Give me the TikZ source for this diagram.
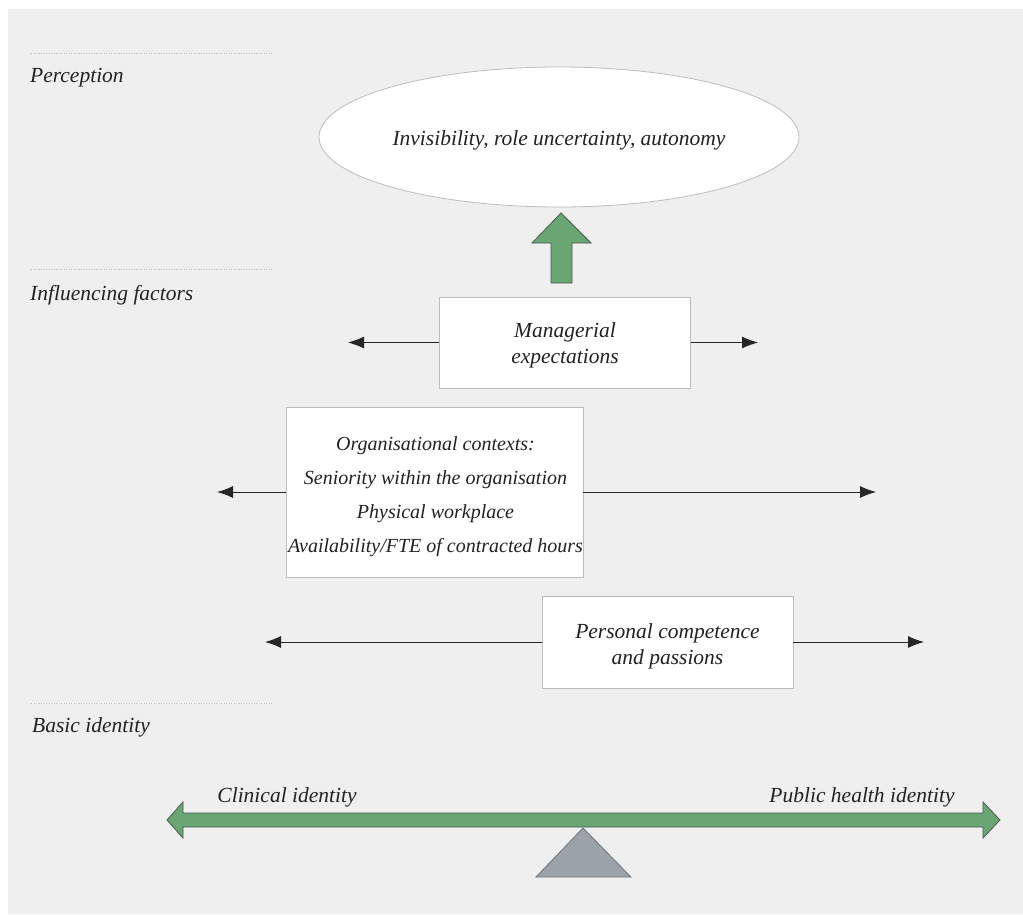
\documentclass[tikz,border=0pt]{standalone}
\usepackage{fontspec}
\setmainfont{Liberation Serif}
\usetikzlibrary{arrows.meta,shapes.geometric}
\definecolor{bg}{HTML}{EFEFEF}
\definecolor{boxline}{HTML}{BDBDBD}
\definecolor{greenfill}{HTML}{6AA674}
\definecolor{greenline}{HTML}{4A5A4C}
\definecolor{triFill}{HTML}{9AA2AA}
\definecolor{triLine}{HTML}{6E747A}
\definecolor{txt}{HTML}{222222}
\begin{document}
\begin{tikzpicture}[x=1pt,y=-1pt,
  every node/.style={text=txt,font=\fontsize{21.5}{26}\selectfont\itshape},
  box/.style={draw=boxline,fill=white,line width=0.8pt,inner sep=0pt},
  boxtext/.style={align=center,inner sep=0pt},
  conn/.style={draw=black!85,line width=0.9pt,-{Latex[length=16pt,width=12pt]}},
  sep/.style={draw=black!25,line width=0.5pt,dotted},
  lab/.style={anchor=west,inner sep=0pt},
  greenshape/.style={fill=greenfill,draw=greenline,line width=0.8pt,line join=miter}]
\useasboundingbox (0,0) rectangle (1023,914);
\fill[bg] (8,9) rectangle (1023,914);

% separators
\draw[sep] (31,53) -- (273,53);
\draw[sep] (31,269) -- (273,269);
\draw[sep] (31,703) -- (273,703);

% level labels
\node[lab] (perc) at (30,78) {Perception};
\node[lab] (infl) at (30,295) {Influencing factors};
\node[lab] (basic) at (32,727) {Basic identity};

% ellipse
\node[ellipse,draw=boxline,fill=white,line width=0.8pt,minimum width=480pt,minimum height=140pt,inner sep=0pt] (ell) at (559,137) {};
\node (elltext) at (559,140) {Invisibility, role uncertainty, autonomy};

% up arrow
\draw[greenshape] (561,213) -- (591,243) -- (572,243) -- (572,283) -- (551,283) -- (551,243) -- (532,243) -- cycle;

% managerial
\node[box,minimum width=251pt,minimum height=91pt] (man) at (565,342.5) {};
\node[boxtext] (mantext) at (565,345) {Managerial\\expectations};
\coordinate (manL) at (348,342.5);
\coordinate (manR) at (758,342.5);
\draw[conn] (man.west) -- (manL);
\draw[conn] (man.east) -- (manR);

% organisational
\node[box,minimum width=297pt,minimum height=170pt] (org) at (434.5,492) {};
\node[boxtext,font=\fontsize{20}{34}\selectfont\itshape] (orgtext) at (435.5,497) {Organisational contexts:\\Seniority within the organisation\\Physical workplace\\Availability/FTE of contracted hours};
\coordinate (orgL) at (217,492);
\coordinate (orgR) at (876,492);
\draw[conn] (org.west) -- (orgL);
\draw[conn] (org.east) -- (orgR);

% personal
\node[box,minimum width=251pt,minimum height=92pt] (pers) at (667.5,642) {};
\node[boxtext] (perstext) at (667.5,646) {Personal competence\\and passions};
\coordinate (persL) at (265,642);
\coordinate (persR) at (924,642);
\draw[conn] (pers.west) -- (persL);
\draw[conn] (pers.east) -- (persR);

% balance beam
\draw[greenshape] (167,820) -- (183,802) -- (183,813) -- (983,813) -- (983,802) -- (1000,820) -- (983,838) -- (983,827) -- (183,827) -- (183,838) -- cycle;
\draw[fill=triFill,draw=triLine,line width=0.8pt] (583,828) -- (631,877) -- (536,877) -- cycle;

\node[inner sep=0pt] (clin) at (287,797) {Clinical identity};
\node[inner sep=0pt] (pub) at (862,797) {Public health identity};
\end{tikzpicture}
\end{document}
